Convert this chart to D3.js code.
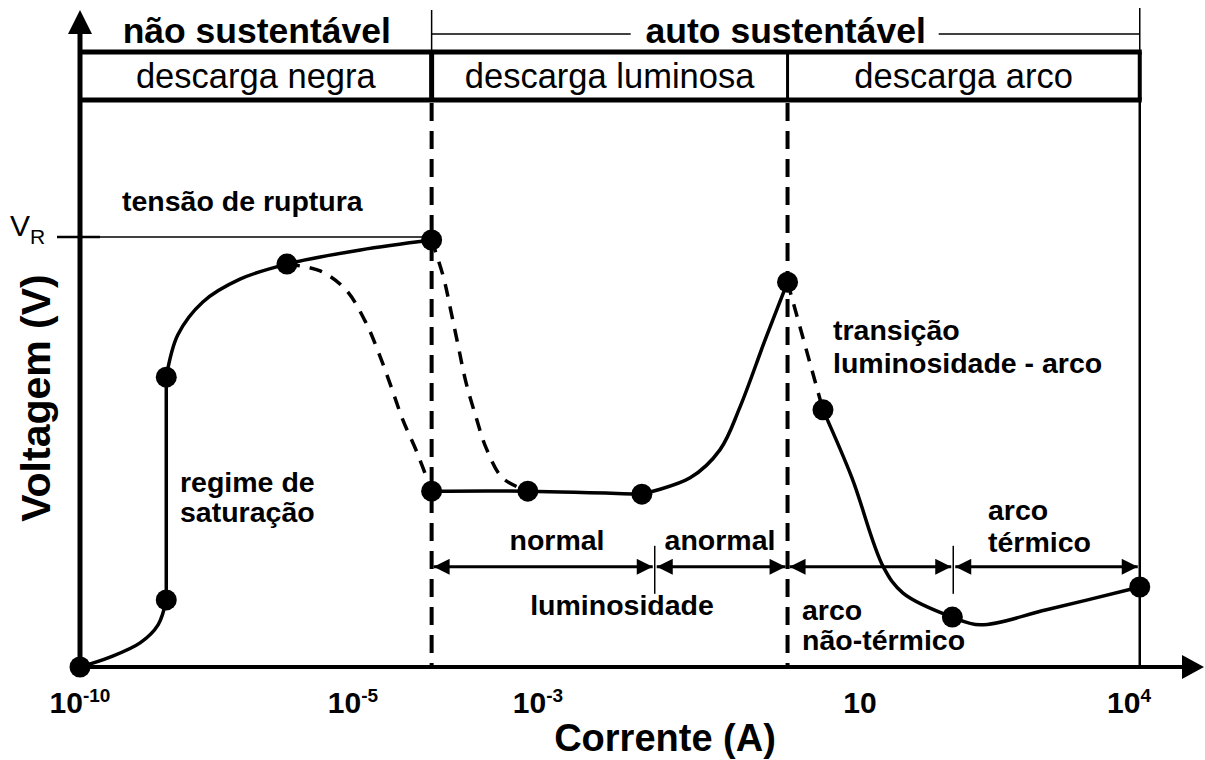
<!DOCTYPE html>
<html lang="pt">
<head>
<meta charset="UTF-8">
<title>Curva tensão x corrente da descarga</title>
<script src="https://cdn.jsdelivr.net/npm/d3@7"></script>
<style>
  body { margin: 0; background: #fff; }
  svg text { font-family: "Liberation Sans", Arial, sans-serif; fill: #000; }
  .ann { font-weight: bold; font-size: 28.5px; }
  .head { font-weight: bold; font-size: 35.5px; }
  .region { font-size: 34.5px; }
  .tick { font-weight: bold; font-size: 30px; }
</style>
</head>
<body>
<script>
// schematic x axis: log10 of current, non uniform spacing between the labels
var tickExp = [-10, -5, -3, 1, 4];
var tickSup = ["-10", "-5", "-3", "", "4"];

// boundaries between regimes (log10 I)
var regionBounds = [-10, -4.15, 0.1, 4.12];
var regionNames = ["descarga negra", "descarga luminosa", "descarga arco"];
var subBounds = [-4.15, -1.55, 0.1, 2.04, 4.12];
var arrowLevel = 23.3; // voltage level of the dimension arrows

// marked points of the curve [log10 I, V]  (V_R = 100)
var dotsLogI = [-10, -8.42, -8.42, -6.21, -4.15, -4.15, -3.11, -1.71, 0.1, 0.54, 2.03, 4.12];
var dotsV    = [0, 15.6, 67.4, 93.7, 99.3, 40.9, 40.9, 40.2, 89.5, 59.8, 11.6, 18.6];

// solid parts of the curve
var curveSaturacao = [[-10, 0], [-9.45, 2.3], [-8.9, 5.6], [-8.57, 9.8], [-8.42, 15.6]];
var curvePlato     = [[-8.42, 15.6], [-8.42, 67.4]];
var curveTownsend  = [[-8.42, 67.4], [-8.21, 77.2], [-7.75, 84.9], [-7.07, 90.2], [-6.21, 93.7], [-4.92, 97.0], [-4.15, 99.3]];
var curveNormal    = [[-4.15, 40.9], [-3.11, 40.9], [-1.71, 40.2]];
var curveAnormal   = [[-1.71, 40.2], [-1.11, 44.0], [-0.74, 50.5], [-0.49, 60.5], [-0.18, 76.0], [0.1, 89.5]];
var curveArco      = [[0.54, 59.8], [0.9, 44.0], [1.26, 23.3], [1.48, 17.2], [2.03, 11.6], [2.34, 9.8], [3.08, 13.3], [4.12, 18.6]];

// dashed transitions
var dashKnee      = [[-6.21, 93.7], [-5.6, 92.1], [-5.13, 87.7], [-4.87, 80.5], [-4.73, 73.5], [-4.59, 65.3], [-4.46, 57.4], [-4.31, 50.0], [-4.15, 40.9]];
var dashRuptura   = [[-4.15, 99.3], [-4.02, 90.5], [-3.94, 82.6], [-3.86, 74.4], [-3.78, 66.3], [-3.67, 58.1], [-3.56, 50.9], [-3.38, 43.9], [-3.11, 40.9]];
var dashTransicao = [[0.1, 89.5], [0.54, 59.8]];

var w = 1205, h = 760;
var svg = d3.select("body").append("svg")
  .attr("width", w).attr("height", h);

var x = d3.scaleLinear().domain(tickExp).range([80, 353, 538, 860, 1129]);
var y = d3.scaleLinear().domain([0, 100]).range([667, 237]);

var boxTop = 52, boxBottom = 100;
var x0 = x(-10), y0 = y(0);

// arrow heads
svg.append("defs").append("marker")
  .attr("id", "ah").attr("viewBox", "0 0 10 10")
  .attr("refX", 10).attr("refY", 5)
  .attr("markerWidth", 20).attr("markerHeight", 16)
  .attr("markerUnits", "userSpaceOnUse")
  .attr("orient", "auto-start-reverse")
  .append("path").attr("d", "M0,0 L10,5 L0,10 Z").attr("fill", "#000");

// axes
svg.append("line").attr("x1", x0).attr("x2", x0).attr("y1", y0 + 2).attr("y2", 32)
  .attr("stroke", "#000").attr("stroke-width", 5);
svg.append("path").attr("d", `M${x0},10 L${x0 - 12},34 L${x0 + 12},34 Z`).attr("fill", "#000");
svg.append("line").attr("x1", x0).attr("x2", 1185).attr("y1", y0).attr("y2", y0)
  .attr("stroke", "#000").attr("stroke-width", 4);
svg.append("path").attr("d", `M1204,${y0} L1182,${y0 - 12} L1182,${y0 + 12} Z`).attr("fill", "#000");

// tick labels 10^n
tickExp.forEach(function(e, i) {
  var t = svg.append("text").attr("class", "tick")
    .attr("x", x(e)).attr("y", 713).attr("text-anchor", "middle");
  t.append("tspan").text("10");
  if (tickSup[i]) t.append("tspan").attr("dy", -11).attr("font-size", 19).text(tickSup[i]);
});

svg.append("text").attr("x", 665).attr("y", 751).attr("text-anchor", "middle")
  .attr("font-weight", "bold").attr("font-size", 38).text("Corrente (A)");
svg.append("text").attr("transform", "translate(50,398) rotate(-90)")
  .attr("text-anchor", "middle").attr("font-weight", "bold").attr("font-size", 41)
  .text("Voltagem (V)");

// header box
svg.append("line").attr("x1", x0 - 2).attr("x2", x(regionBounds[3]) + 2)
  .attr("y1", boxTop).attr("y2", boxTop).attr("stroke", "#000").attr("stroke-width", 5);
svg.append("line").attr("x1", x0 - 2).attr("x2", x(regionBounds[3]) + 2)
  .attr("y1", boxBottom).attr("y2", boxBottom).attr("stroke", "#000").attr("stroke-width", 5);
[5, 3, 4].forEach(function(sw, i) {
  var b = regionBounds[i + 1];
  svg.append("line").attr("x1", x(b)).attr("x2", x(b)).attr("y1", boxTop).attr("y2", boxBottom)
    .attr("stroke", "#000").attr("stroke-width", sw);
});
regionNames.forEach(function(n, i) {
  svg.append("text").attr("class", "region")
    .attr("x", (x(regionBounds[i]) + x(regionBounds[i + 1])) / 2).attr("y", 88)
    .attr("text-anchor", "middle").text(n);
});

// regime labels above the box
svg.append("text").attr("class", "head").attr("x", (x(regionBounds[0]) + x(regionBounds[1])) / 2 + 1)
  .attr("y", 43).attr("text-anchor", "middle").text("não sustentável");
var autoMid = (x(regionBounds[1]) + x(regionBounds[3])) / 2;
svg.append("text").attr("class", "head").attr("x", autoMid).attr("y", 43)
  .attr("text-anchor", "middle").text("auto sustentável");
var thin = [
  [x(regionBounds[1]), 10, x(regionBounds[1]), boxTop],
  [x(regionBounds[1]), 34, autoMid - 155, 34],
  [autoMid + 153, 34, x(regionBounds[3]), 34],
  [x(regionBounds[3]), 8, x(regionBounds[3]), boxTop]
];
thin.forEach(function(s) {
  svg.append("line").attr("x1", s[0]).attr("y1", s[1]).attr("x2", s[2]).attr("y2", s[3])
    .attr("stroke", "#000").attr("stroke-width", 1.5);
});

// region separators inside the plot
[regionBounds[1], regionBounds[2]].forEach(function(b) {
  svg.append("line").attr("x1", x(b)).attr("x2", x(b)).attr("y1", boxBottom + 3).attr("y2", y0)
    .attr("stroke", "#000").attr("stroke-width", 4).attr("stroke-dasharray", "18,10");
});
svg.append("line").attr("x1", x(regionBounds[3])).attr("x2", x(regionBounds[3]))
  .attr("y1", boxBottom).attr("y2", y0).attr("stroke", "#000").attr("stroke-width", 2.5);

// V_R reference
svg.append("line").attr("x1", 57).attr("x2", x(dotsLogI[4])).attr("y1", y(100)).attr("y2", y(100))
  .attr("stroke", "#000").attr("stroke-width", 1.5);
svg.append("line").attr("x1", 57).attr("x2", 100).attr("y1", y(100)).attr("y2", y(100))
  .attr("stroke", "#000").attr("stroke-width", 2.5);
var vr = svg.append("text").attr("x", 10).attr("y", y(100) - 1).attr("font-size", 30);
vr.append("tspan").text("V");
vr.append("tspan").attr("dy", 8).attr("font-size", 21).text("R");

// curve
var line = d3.line().x(function(d) { return x(d[0]); }).y(function(d) { return y(d[1]); })
  .curve(d3.curveCatmullRom.alpha(0.5));
[curveSaturacao, curvePlato, curveTownsend, curveNormal, curveAnormal, curveArco].forEach(function(c) {
  svg.append("path").attr("d", line(c)).attr("fill", "none")
    .attr("stroke", "#000").attr("stroke-width", 3.5).attr("stroke-linejoin", "round");
});
[dashKnee, dashRuptura, dashTransicao].forEach(function(c) {
  svg.append("path").attr("d", line(c)).attr("fill", "none")
    .attr("stroke", "#000").attr("stroke-width", 3.5).attr("stroke-dasharray", "13,10");
});

svg.selectAll("circle.pt")
  .data(dotsLogI.map(function(v, i) { return [v, dotsV[i]]; }))
  .enter().append("circle").attr("class", "pt")
  .attr("cx", function(d) { return x(d[0]); })
  .attr("cy", function(d) { return y(d[1]); })
  .attr("r", 10.5).attr("fill", "#000");

// dimension arrows
var ay = y(arrowLevel);
for (var i = 0; i < subBounds.length - 1; i++) {
  svg.append("line").attr("x1", x(subBounds[i]) + 2).attr("x2", x(subBounds[i + 1]) - 2)
    .attr("y1", ay).attr("y2", ay).attr("stroke", "#000").attr("stroke-width", 3)
    .attr("marker-start", "url(#ah)").attr("marker-end", "url(#ah)");
}
[subBounds[1], subBounds[3]].forEach(function(b) {
  svg.append("line").attr("x1", x(b)).attr("x2", x(b)).attr("y1", ay - 21).attr("y2", ay + 27)
    .attr("stroke", "#000").attr("stroke-width", 1.5);
});

// annotations
function note(str, px, py, anchor) {
  svg.append("text").attr("class", "ann").attr("x", px).attr("y", py)
    .attr("text-anchor", anchor || "start").text(str);
}
note("tensão de ruptura", 122, 211);
note("regime de", 180, 492);
note("saturação", 180, 522);
note("normal", 557, 550, "middle");
note("anormal", 720, 550, "middle");
note("luminosidade", 622, 615, "middle");
note("transição", 833, 340);
note("luminosidade - arco", 833, 373);
note("arco", 988, 520);
note("térmico", 988, 552);
note("arco", 802, 620);
note("não-térmico", 802, 650);
</script>
</body>
</html>
